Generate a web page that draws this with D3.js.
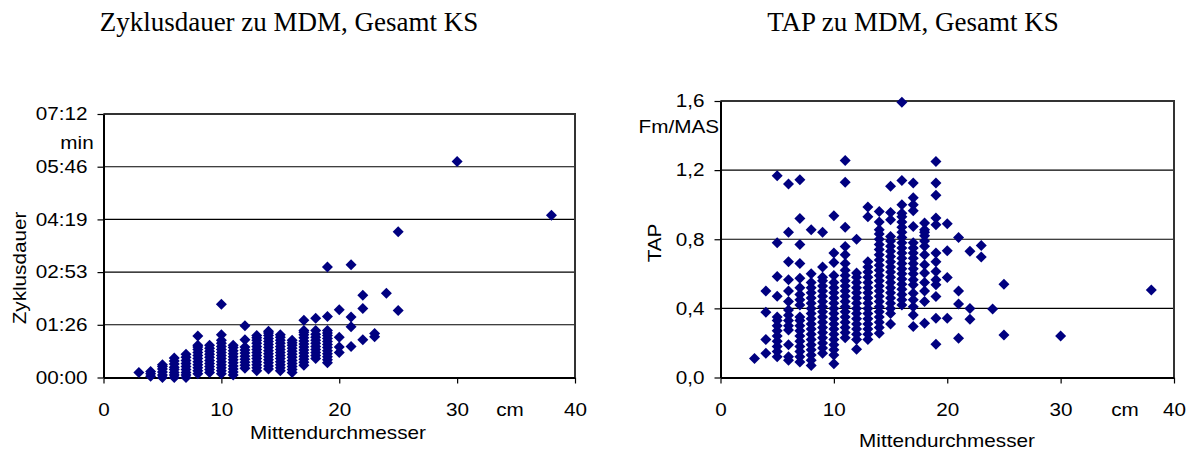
<!DOCTYPE html>
<html>
<head>
<meta charset="utf-8">
<script src="https://cdn.jsdelivr.net/npm/d3@7"></script>
<style>
  html, body { margin: 0; padding: 0; background: #fff; }
  svg { display: block; }
  .tick text { font-family: "Liberation Sans", Arial, sans-serif; font-size: 18px; fill: #000; }
  .lbl { font-family: "Liberation Sans", Arial, sans-serif; font-size: 18px; fill: #000; }
  .title { font-family: "Liberation Serif", "Times New Roman", serif; font-size: 27px; fill: #000; }
</style>
</head>
<body>
<svg id="chart" width="1195" height="452"></svg>
<script>
// Mittendurchmesser (cm) and the cycle durations (seconds) measured at that diameter
const zyklusdauer = [
  [3, [8]],
  [4, [2, 6, 10]],
  [5, [0, 4, 9, 14, 18, 21]],
  [6, [0, 4, 8, 13, 17, 22, 27, 32]],
  [7, [0, 4, 8, 13, 18, 23, 28, 33, 38]],
  [8, [6, 11, 16, 21, 26, 31, 36, 41, 46, 50, 53, 68]],
  [9, [8, 13, 18, 23, 28, 33, 38, 43, 48, 53]],
  [10, [6, 11, 16, 21, 26, 31, 36, 41, 46, 51, 56, 61, 70, 120]],
  [11, [4, 9, 14, 19, 24, 29, 34, 39, 44, 49, 53]],
  [12, [15, 20, 25, 30, 35, 40, 45, 50, 62, 85]],
  [13, [11, 16, 21, 26, 31, 36, 41, 46, 51, 56, 61, 65, 69]],
  [14, [14, 19, 24, 29, 34, 39, 44, 49, 54, 59, 64, 69, 73, 76]],
  [15, [11, 16, 21, 26, 31, 36, 41, 46, 51, 56, 61, 66, 70]],
  [16, [8, 13, 18, 23, 28, 33, 38, 43, 48, 53, 57, 61]],
  [17, [20, 25, 30, 35, 40, 45, 50, 55, 60, 65, 70, 74, 77, 94]],
  [18, [31, 36, 41, 46, 51, 56, 61, 66, 71, 77, 97]],
  [19, [24, 29, 34, 39, 44, 49, 54, 59, 64, 69, 73, 77, 100, 181]],
  [20, [41, 50, 66, 111]],
  [21, [51, 83, 99, 185]],
  [22, [62, 113, 135]],
  [23, [67, 72]],
  [24, [138]],
  [25, [110, 239]],
  [30, [354]],
  [38, [266]]
];

// Mittendurchmesser (cm) and TAP (Fm/MAS) at that diameter
const tapWerte = [
  [3, [0.11]],
  [4, [0.14, 0.22, 0.378, 0.50]],
  [5, [0.12, 0.15, 0.18, 0.21, 0.24, 0.27, 0.30, 0.33, 0.35, 0.47, 0.585, 0.78, 1.168]],
  [6, [0.10, 0.12, 0.19, 0.275, 0.30, 0.33, 0.36, 0.39, 0.44, 0.50, 0.565, 0.67, 0.84, 1.12]],
  [7, [0.09, 0.12, 0.15, 0.18, 0.21, 0.24, 0.27, 0.30, 0.33, 0.35, 0.42, 0.45, 0.48, 0.52, 0.575, 0.66, 0.77, 0.92, 1.145]],
  [8, [0.07, 0.10, 0.13, 0.16, 0.19, 0.22, 0.25, 0.28, 0.31, 0.34, 0.37, 0.40, 0.43, 0.46, 0.49, 0.52, 0.55, 0.60, 0.855]],
  [9, [0.14, 0.17, 0.20, 0.23, 0.26, 0.29, 0.32, 0.35, 0.38, 0.41, 0.44, 0.47, 0.50, 0.53, 0.56, 0.58, 0.64, 0.84]],
  [10, [0.08, 0.13, 0.16, 0.19, 0.22, 0.25, 0.28, 0.31, 0.34, 0.37, 0.40, 0.43, 0.46, 0.49, 0.52, 0.55, 0.59, 0.665, 0.72, 0.936]],
  [11, [0.23, 0.26, 0.29, 0.32, 0.35, 0.38, 0.41, 0.44, 0.47, 0.50, 0.53, 0.56, 0.59, 0.62, 0.66, 0.71, 0.758, 0.87, 1.13, 1.255]],
  [12, [0.163, 0.22, 0.25, 0.28, 0.31, 0.34, 0.37, 0.40, 0.43, 0.46, 0.49, 0.52, 0.55, 0.58, 0.605, 0.80]],
  [13, [0.22, 0.25, 0.28, 0.31, 0.34, 0.37, 0.40, 0.43, 0.46, 0.49, 0.52, 0.55, 0.58, 0.61, 0.64, 0.67, 0.93, 0.987]],
  [14, [0.256, 0.29, 0.32, 0.35, 0.38, 0.41, 0.44, 0.47, 0.50, 0.53, 0.56, 0.59, 0.62, 0.65, 0.68, 0.71, 0.74, 0.77, 0.80, 0.83, 0.855, 0.90, 0.96]],
  [15, [0.31, 0.37, 0.40, 0.43, 0.46, 0.49, 0.52, 0.55, 0.58, 0.61, 0.64, 0.67, 0.70, 0.73, 0.76, 0.79, 0.816, 0.913, 0.955, 1.106]],
  [16, [0.42, 0.45, 0.48, 0.51, 0.54, 0.57, 0.60, 0.63, 0.66, 0.69, 0.72, 0.75, 0.78, 0.81, 0.84, 0.87, 0.90, 0.93, 0.95, 1.0, 1.14, 1.593]],
  [17, [0.295, 0.362, 0.41, 0.45, 0.488, 0.536, 0.565, 0.60, 0.63, 0.66, 0.69, 0.72, 0.75, 0.78, 0.874, 0.965, 1.0, 1.04, 1.126]],
  [18, [0.314, 0.44, 0.50, 0.55, 0.604, 0.652, 0.71, 0.76, 0.79, 0.82, 0.84, 0.855, 0.894]],
  [19, [0.192, 0.343, 0.468, 0.536, 0.565, 0.613, 0.67, 0.72, 0.884, 0.923, 1.054, 1.126, 1.25]],
  [20, [0.343, 0.579, 0.733, 0.89]],
  [21, [0.227, 0.426, 0.50, 0.81]],
  [22, [0.337, 0.40, 0.73]],
  [23, [0.697, 0.764]],
  [24, [0.397]],
  [25, [0.246, 0.54]],
  [30, [0.24]],
  [38, [0.507]]
];

const mdmTicks = [0, 10, 20, 30, 40];
const zeitTicks = [0, 86.4, 172.8, 259.2, 345.6, 432];
const tapTicks = [0, 0.4, 0.8, 1.2, 1.6];

const svg = d3.select("#chart");
const diamond = "M0,-5.5L5.5,0L0,5.5L-5.5,0Z";
const markFill = "#000080";
const wide = "scale(1.15,1)";   // the sans labels run slightly wide
const de = d3.formatLocale({ decimal: ",", thousands: ".", grouping: [3], currency: ["", " €"] });
const fmtTap = de.format(".1f");
const fmtZeit = s => {
  const r = Math.round(s);
  return d3.format("02d")(Math.floor(r / 60)) + ":" + d3.format("02d")(r % 60);
};

function flatten(rows) {
  return rows.flatMap(([cm, vals]) => vals.map(v => ({ cm, v })));
}

function label(x, y, text, anchor, rotate) {
  svg.append("text").attr("class", "lbl")
    .attr("transform", `translate(${x},${y})${rotate ? " rotate(-90)" : ""} ${wide}`)
    .attr("text-anchor", anchor).text(text);
}

function panel(opts) {
  const { x, y, yTicks, yFmt, data, title, titleX, yTitle, yTitlePos, unitY, unitYPos, cmX, xTitlePos } = opts;
  const g = svg.append("g");
  const [x0, x1] = x.range();
  const [y0, y1] = y.range();

  // horizontal gridlines
  g.append("g").selectAll("line").data(yTicks.slice(1)).join("line")
    .attr("x1", x0).attr("x2", x1)
    .attr("y1", d => y(d)).attr("y2", d => y(d))
    .attr("stroke", "#000").attr("stroke-width", 1.1);

  // plot frame (top + right)
  g.append("path")
    .attr("d", `M${x0},${y1}H${x1}V${y0}`)
    .attr("fill", "none").attr("stroke", "#333").attr("stroke-width", 2);

  // axes
  const ya = g.append("g").attr("transform", `translate(${x0},0)`)
    .call(d3.axisLeft(y).tickValues(yTicks).tickFormat(yFmt).tickSize(6).tickSizeOuter(0).tickPadding(8));
  const xa = g.append("g").attr("transform", `translate(0,${y0})`)
    .call(d3.axisBottom(x).tickValues(mdmTicks).tickFormat(d3.format("d")).tickSize(6).tickSizeOuter(0).tickPadding(20));
  [ya, xa].forEach(a => {
    a.attr("font-size", null).attr("font-family", null);
    a.select(".domain").attr("stroke", "#000").attr("stroke-width", 2);
    a.selectAll(".tick line").attr("stroke", "#000").attr("stroke-width", 1.2);
    a.selectAll(".tick text").attr("transform", wide);
  });

  // markers
  g.append("g").selectAll("path").data(flatten(data)).join("path")
    .attr("d", diamond)
    .attr("transform", d => `translate(${x(d.cm)},${y(d.v)})`)
    .attr("fill", markFill);

  // texts
  svg.append("text").attr("class", "title").attr("x", titleX).attr("y", 31)
    .attr("text-anchor", "middle").text(title);
  label(yTitlePos[0], yTitlePos[1], yTitle, "middle", true);
  label(unitYPos[0], unitYPos[1], unitY, unitYPos[2], false);
  label(cmX, y0 + 38.5, "cm", "middle", false);
  label(xTitlePos[0], xTitlePos[1], "Mittendurchmesser", "middle", false);
}

panel({
  x: d3.scaleLinear([0, 40], [103.5, 575]),
  y: d3.scaleLinear([0, 432], [377.5, 114]),
  yTicks: zeitTicks, yFmt: fmtZeit,
  data: zyklusdauer,
  title: "Zyklusdauer zu MDM, Gesamt KS", titleX: 289,
  yTitle: "Zyklusdauer", yTitlePos: [26, 268],
  unitY: "min", unitYPos: [77, 149, "middle"],
  cmX: 510, xTitlePos: [338, 439]
});

panel({
  x: d3.scaleLinear([0, 40], [720.5, 1174]),
  y: d3.scaleLinear([0, 1.6], [377.5, 101]),
  yTicks: tapTicks, yFmt: fmtTap,
  data: tapWerte,
  title: "TAP zu MDM, Gesamt KS", titleX: 913,
  yTitle: "TAP", yTitlePos: [661, 243],
  unitY: "Fm/MAS", unitYPos: [719, 133, "end"],
  cmX: 1125, xTitlePos: [947, 447]
});
</script>
</body>
</html>
